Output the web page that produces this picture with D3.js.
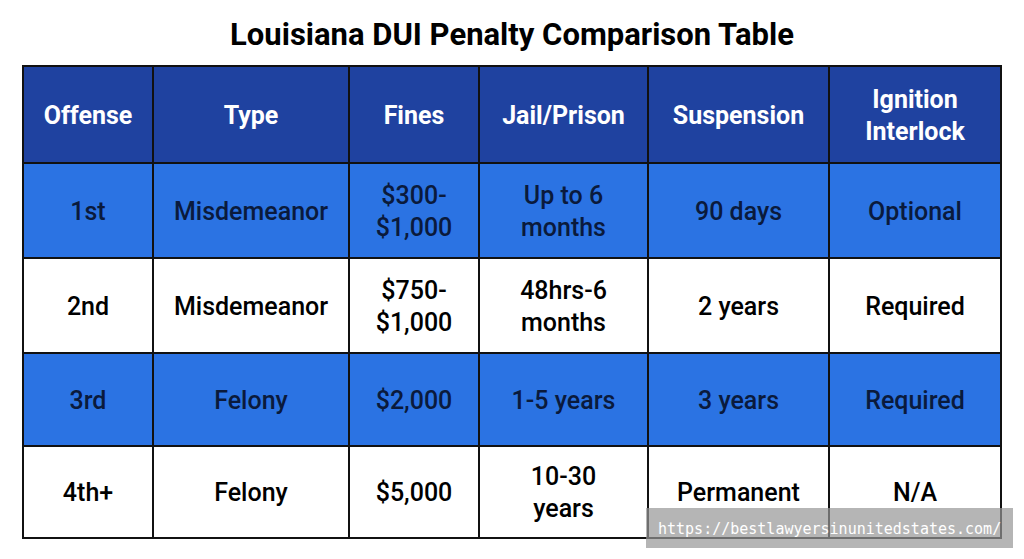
<!DOCTYPE html>
<html><head><meta charset="utf-8">
<script src="https://d3js.org/d3.v7.min.js"></script>
<style>body{margin:0;background:#fff}</style></head>
<body><svg id="c" width="1024" height="559"></svg>
<script>
const title = "Louisiana DUI Penalty Comparison Table";
const headers = [["Offense"],["Type"],["Fines"],["Jail/Prison"],["Suspension"],["Ignition","Interlock"]];
const offenses = ["1st","2nd","3rd","4th+"];
const types = ["Misdemeanor","Misdemeanor","Felony","Felony"];
const fines = [["$300-","$1,000"],["$750-","$1,000"],["$2,000"],["$5,000"]];
const jail = [["Up to 6","months"],["48hrs-6","months"],["1-5 years"],["10-30","years"]];
const suspension = ["90 days","2 years","3 years","Permanent"];
const interlock = ["Optional","Required","Required","N/A"];
const colEdges = [23,153,349,479,648,829,1001];
const rowEdges = [66,163,258,353,446,538];

const svg = d3.select("#c");
svg.append("text").attr("x",512).attr("y",45).attr("text-anchor","middle")
  .attr("font-family","Roboto").attr("font-weight",700).attr("font-size",31).attr("fill","#000").text(title);

const rows = offenses.map((o,i)=>[[o],[types[i]],fines[i],jail[i],[suspension[i]],[interlock[i]]]);
const all = [headers, ...rows];
const fillFor = r => r===0 ? "#1f42a0" : (r%2===1 ? "#2b73e3" : "#ffffff");
const textFor = r => r===0 ? "#ffffff" : (r%2===1 ? "#0a1a3c" : "#000000");

all.forEach((row,r)=>{
  row.forEach((lines,c)=>{
    const x0=colEdges[c], x1=colEdges[c+1], y0=rowEdges[r], y1=rowEdges[r+1];
    svg.append("rect").attr("x",x0).attr("y",y0).attr("width",x1-x0).attr("height",y1-y0)
      .attr("fill",fillFor(r)).attr("stroke","#111").attr("stroke-width",2);
    const cy=(y0+y1)/2, lh=32;
    const t = svg.append("text").attr("text-anchor","middle")
      .attr("font-family","Roboto").attr("font-weight", r===0?700:500)
      .attr("font-size",25).attr("fill",textFor(r));
    lines.forEach((ln,k)=>{
      t.append("tspan").attr("x",(x0+x1)/2)
        .attr("y", cy + (k-(lines.length-1)/2)*lh + 9).text(ln);
    });
  });
});

svg.append("rect").attr("x",646).attr("y",508).attr("width",367).attr("height",40)
  .attr("fill","rgba(150,150,150,0.7)");
svg.append("text").attr("x",658).attr("y",534).attr("font-family","DejaVu Sans Mono")
  .attr("font-size",15).attr("fill","#fff").text("https://bestlawyersinunitedstates.com/");
</script></body></html>
